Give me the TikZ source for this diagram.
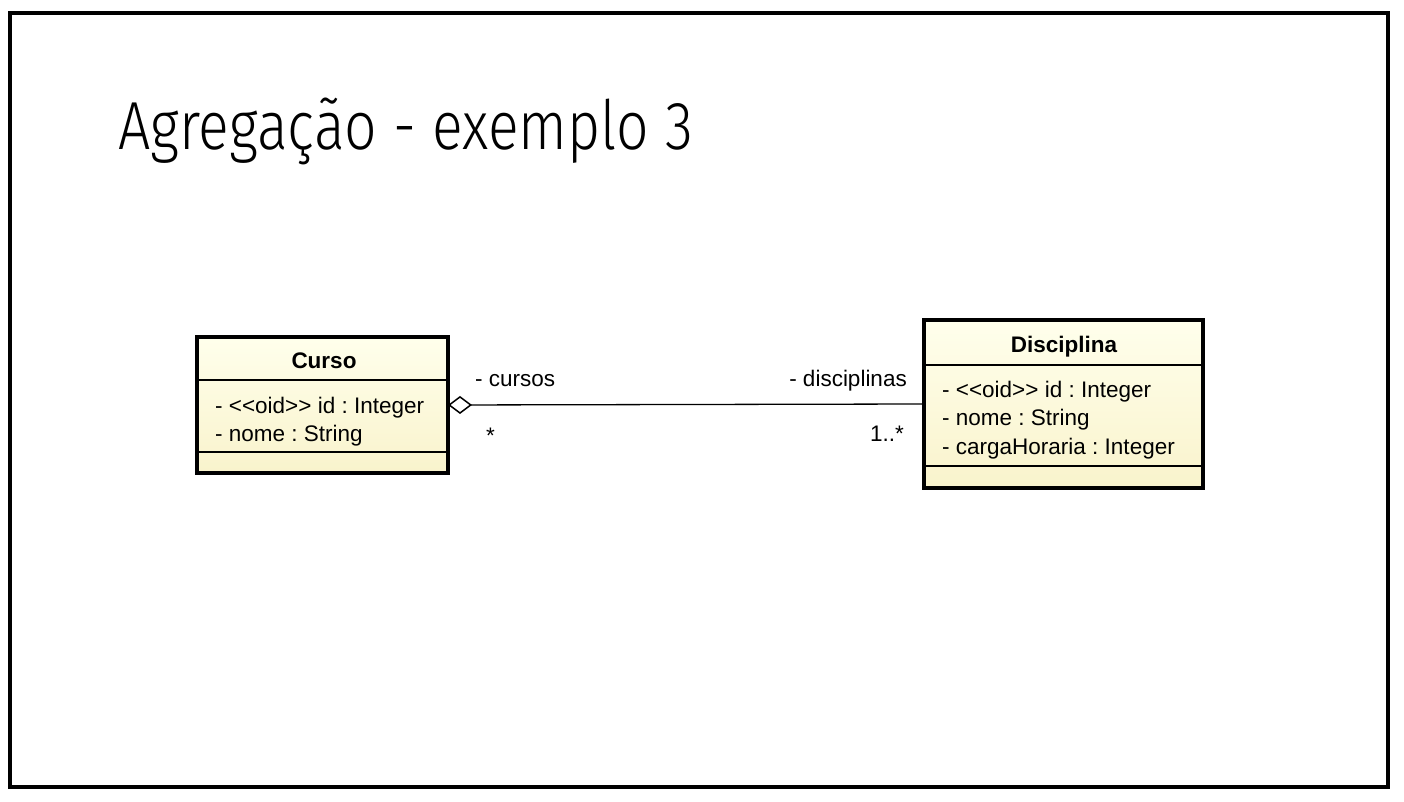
\documentclass[tikz,border=0pt]{standalone}
\usepackage{fontspec}
\setmainfont{Liberation Sans}
\newfontfamily\titlefont{Fira Sans Light}[FakeStretch=0.84]
\usetikzlibrary{positioning,arrows.meta}

\definecolor{umltop}{RGB}{255,255,236}
\definecolor{umlbottom}{RGB}{249,243,204}

% stereotype without the << >> ligature
\newcommand{\stereo}[1]{<\kern0pt<#1>\kern0pt>}

\tikzset{
  classbox/.style={draw, line width=3.5pt, top color=umltop, bottom color=umlbottom,
    inner sep=0pt, outer sep=0pt, anchor=north west},
  umltext/.style={font=\fontsize{22.5}{27}\selectfont, inner sep=0pt, anchor=base west},
  classname/.style={font=\fontsize{22.5}{27}\selectfont\bfseries, inner sep=0pt, anchor=base},
  divider/.style={line width=1.2pt},
  aggregation/.style={line width=1.3pt, -{Diamond[length=24pt,width=18pt,fill=white,line width=1.5pt]}}
}

\begin{document}
\frenchspacing
\begin{tikzpicture}[x=1pt, y=-1pt]

  \useasboundingbox (0,0) rectangle (1404,802);
  \draw[line width=4pt] (10,13) rectangle (1388,787); % slide frame

  % Title
  \node[anchor=base west, inner sep=0pt, font=\titlefont\fontsize{68}{80}\selectfont] (title)
    at (118,150) {Agregação - exemplo 3};

  % Class Curso
  \node[classbox, minimum width=251pt, minimum height=136pt] (curso) at (197,337) {};
  \draw[divider] (197,380) -- (448,380);
  \draw[divider] (197,452) -- (448,452);
  \node[classname] (cursoname) at (324,368) {Curso};
  \foreach \attr [count=\i] in {- \stereo{oid} id : Integer, - nome : String}
  {
    \node[umltext] (cursoattr\i) at (215,385+28*\i) {\attr};
  }

  % Class Disciplina
  \node[classbox, minimum width=279pt, minimum height=168pt] (disc) at (924,320) {};
  \draw[divider] (924,365) -- (1203,365);
  \draw[divider] (924,466) -- (1203,466);
  \node[classname] (discname) at (1064,352) {Disciplina};
  \foreach \attr [count=\i] in {- \stereo{oid} id : Integer, - nome : String, - cargaHoraria : Integer}
  {
    \node[umltext] (discattr\i) at (942,368.5+28.5*\i) {\attr};
  }

  % Aggregation
  \draw[aggregation] (disc.west) -- (curso.east);

  % Role names and multiplicities
  \node[umltext] (rolecursos) at (475,386) {- cursos};
  \node[umltext] (multcursos) at (486,443) {*};
  \node[umltext, anchor=base east] (roledisc) at (907,386) {- disciplinas};
  \node[umltext, anchor=base east] (multdisc) at (904,441) {1..*};

\end{tikzpicture}
\end{document}
